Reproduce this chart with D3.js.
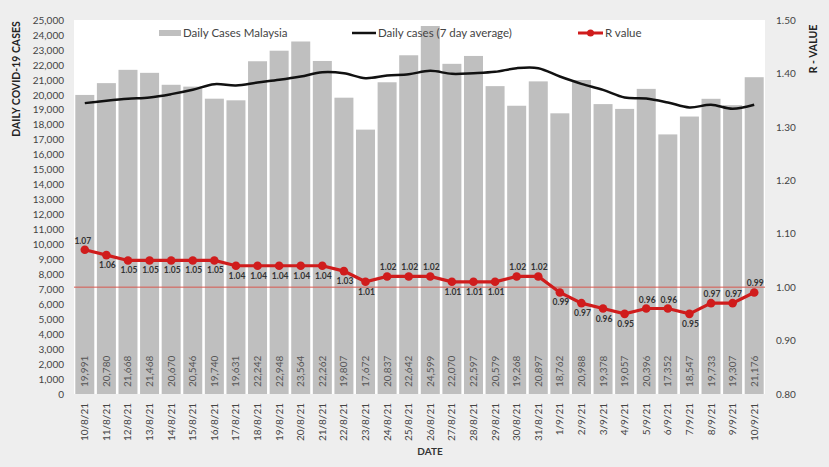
<!DOCTYPE html>
<html>
<head>
<meta charset="utf-8">
<script src="https://cdn.jsdelivr.net/npm/d3@7/dist/d3.min.js"></script>
<style>
  html, body { margin: 0; padding: 0; background: #eeeeee; }
  svg { display: block; font-family: Lato, "Open Sans", sans-serif; }
</style>
</head>
<body>
<svg id="chart" width="829" height="467"></svg>
<script>
const dates = ["10/8/21","11/8/21","12/8/21","13/8/21","14/8/21","15/8/21","16/8/21","17/8/21","18/8/21","19/8/21","20/8/21","21/8/21","22/8/21","23/8/21","24/8/21","25/8/21","26/8/21","27/8/21","28/8/21","29/8/21","30/8/21","31/8/21","1/9/21","2/9/21","3/9/21","4/9/21","5/9/21","6/9/21","7/9/21","8/9/21","9/9/21","10/9/21"];
const dailyCases = [19991,20780,21668,21468,20670,20546,19740,19631,22242,22948,23564,22262,19807,17672,20837,22642,24599,22070,22597,20579,19268,20897,18762,20988,19378,19057,20396,17352,18547,19733,19307,21176];
const avg7 = [19444,19600,19733,19822,20044,20333,20711,20622,20822,21000,21222,21511,21444,21111,21289,21378,21600,21400,21444,21533,21778,21778,21222,20733,20333,19822,19756,19489,19156,19333,19067,19333];
const rValue = [1.07,1.06,1.05,1.05,1.05,1.05,1.05,1.04,1.04,1.04,1.04,1.04,1.03,1.01,1.02,1.02,1.02,1.01,1.01,1.01,1.02,1.02,0.99,0.97,0.96,0.95,0.96,0.96,0.95,0.97,0.97,0.99];
const leftTicks = d3.range(0, 25001, 1000);
const rightTicks = [0.80,0.90,1.00,1.10,1.20,1.30,1.40,1.50];
const legendLabels = ["Daily Cases Malaysia", "Daily cases (7 day average)", "R value"];
const axisTitles = {left: "DAILY COVID-19 CASES", right: "R - VALUE", bottom: "DATE"};

const svg = d3.select("#chart");
const plot = {left: 74, right: 765, top: 20, bottom: 394};

svg.append("rect").attr("x",0).attr("y",0).attr("width",829).attr("height",467).attr("fill","#eeeeee");
svg.append("rect").attr("x",plot.left).attr("y",plot.top)
  .attr("width",plot.right-plot.left).attr("height",plot.bottom-plot.top).attr("fill","#ffffff");

const x = d3.scaleBand().domain(dates).range([plot.left, plot.right]).paddingInner(0.12).paddingOuter(0.06);
const yL = d3.scaleLinear().domain([0,25000]).range([plot.bottom, plot.top]);
const yR = d3.scaleLinear().domain([0.8,1.5]).range([plot.bottom, plot.top]);

// bars
svg.append("g").selectAll("rect").data(dates).join("rect")
  .attr("x", d => x(d)).attr("width", x.bandwidth())
  .attr("y", (d,i) => yL(dailyCases[i])).attr("height", (d,i) => yL(0) - yL(dailyCases[i]))
  .attr("fill", "#bfbfbf");

// bar value labels
svg.append("g").selectAll("text").data(dates).join("text")
  .attr("transform", (d,i) => `translate(${x(d)+x.bandwidth()/2+3.5},${plot.bottom-7}) rotate(-90)`)
  .attr("text-anchor","start").attr("font-size",10).attr("fill","#555")
  .text((d,i) => d3.format(",")(dailyCases[i]));

// left axis
const axL = svg.append("g").attr("transform",`translate(${plot.left},0)`)
  .call(d3.axisLeft(yL).tickValues(leftTicks).tickFormat(d3.format(",")).tickSize(0).tickPadding(10));
axL.select(".domain").remove();
axL.selectAll("text").attr("font-size",10).attr("fill","#444").attr("font-family","Lato, sans-serif");

// right axis
const axR = svg.append("g").attr("transform",`translate(${plot.right},0)`)
  .call(d3.axisRight(yR).tickValues(rightTicks).tickFormat(d3.format(".2f")).tickSize(0).tickPadding(11));
axR.select(".domain").remove();
axR.selectAll("text").attr("font-size",10).attr("fill","#444").attr("font-family","Lato, sans-serif");

// bottom axis (rotated dates)
const axB = svg.append("g").attr("transform",`translate(0,${plot.bottom})`)
  .call(d3.axisBottom(x).tickSize(0).tickPadding(0));
axB.select(".domain").remove();
axB.selectAll("text")
  .attr("font-size",10).attr("fill","#444").attr("font-family","Lato, sans-serif")
  .attr("text-anchor","end").attr("dy","0.35em")
  .attr("transform","translate(0,9) rotate(-90)");

// R = 1.00 reference line
svg.append("line").attr("x1",plot.left).attr("x2",plot.right)
  .attr("y1",yR(1.0)).attr("y2",yR(1.0)).attr("stroke","#d9574f").attr("stroke-width",1);

// 7-day average line
svg.append("path").datum(avg7)
  .attr("d", d3.line().x((d,i) => x(dates[i]) + x.bandwidth()/2).y(d => yL(d)).curve(d3.curveCatmullRom.alpha(0.5)))
  .attr("fill","none").attr("stroke","#111").attr("stroke-width",2.5);

// R value line
svg.append("path").datum(rValue)
  .attr("d", d3.line().x((d,i) => x(dates[i]) + x.bandwidth()/2).y(d => yR(d)))
  .attr("fill","none").attr("stroke","#d01c1c").attr("stroke-width",3.2);
svg.append("g").selectAll("circle").data(rValue).join("circle")
  .attr("cx",(d,i) => x(dates[i]) + x.bandwidth()/2).attr("cy", d => yR(d)).attr("r",4.3)
  .attr("fill","#d01c1c");

// R labels: above when rising, below when falling, same side when flat
const above = [];
rValue.forEach((v,i) => {
  if (i === 0) above.push(true);
  else if (v > rValue[i-1]) above.push(true);
  else if (v < rValue[i-1]) above.push(false);
  else above.push(above[i-1]);
});
svg.append("g").selectAll("text").data(rValue).join("text")
  .attr("x",(d,i) => x(dates[i]) + x.bandwidth()/2 + (i===0 ? -2 : 1))
  .attr("y",(d,i) => yR(d) + (above[i] ? -6 : 13))
  .attr("text-anchor","middle").attr("font-size",8.5).attr("font-weight","bold").attr("fill","#333")
  .text(d => d3.format(".2f")(d));

// axis titles
svg.append("text").attr("transform","translate(20,79) rotate(-90)")
  .attr("text-anchor","middle").attr("font-size",10.5).attr("font-weight","bold").attr("fill","#222")
  .text(axisTitles.left);
svg.append("text").attr("transform","translate(817,49) rotate(-90)")
  .attr("text-anchor","middle").attr("font-size",10.5).attr("font-weight","bold").attr("fill","#222")
  .text(axisTitles.right);
svg.append("text").attr("x",430).attr("y",455)
  .attr("text-anchor","middle").attr("font-size",10).attr("font-weight","bold").attr("fill","#333")
  .text(axisTitles.bottom);

// legend
const lg = svg.append("g");
lg.append("rect").attr("x",159).attr("y",30).attr("width",22).attr("height",6).attr("fill","#bfbfbf");
lg.append("text").attr("x",183).attr("y",37).attr("font-size",11.5).attr("fill","#444").text(legendLabels[0]);
lg.append("line").attr("x1",352).attr("x2",376).attr("y1",33).attr("y2",33).attr("stroke","#111").attr("stroke-width",2.5);
lg.append("text").attr("x",378).attr("y",37).attr("font-size",11.5).attr("fill","#444").text(legendLabels[1]);
lg.append("line").attr("x1",578).attr("x2",603).attr("y1",33).attr("y2",33).attr("stroke","#d01c1c").attr("stroke-width",3);
lg.append("circle").attr("cx",590.5).attr("cy",33).attr("r",3.5).attr("fill","#d01c1c");
lg.append("text").attr("x",605).attr("y",37).attr("font-size",11.5).attr("fill","#444").text(legendLabels[2]);
</script>
</body>
</html>
